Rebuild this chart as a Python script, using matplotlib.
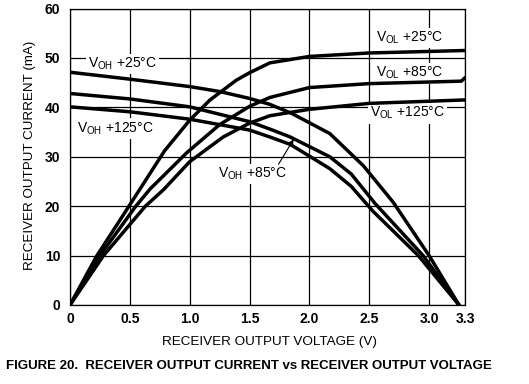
import matplotlib.pyplot as plt
import numpy as np

plt.rcParams['font.family'] = ['Liberation Sans', 'DejaVu Sans']
plt.rcParams['mathtext.fontset'] = 'custom'
plt.rcParams['mathtext.rm'] = 'Liberation Sans'

# (V, mA)
vol25_v = [0, 0.22, 0.49, 0.79, 1.0, 1.17, 1.39, 1.5, 1.67, 2.0, 2.5, 3.3]
vol25_i = [0, 9.8, 19.9, 31.2, 37.4, 41.5, 45.5, 47.0, 49.0, 50.3, 51.0, 51.5]
vol85_v = [0, 0.25, 0.55, 0.67, 0.975, 1.25, 1.5, 1.67, 2.0, 2.5, 3.27, 3.3]
vol85_i = [0, 10, 20, 23.5, 30.8, 36.5, 40.2, 42.0, 44.0, 44.8, 45.3, 46.0]
vol125_v = [0, 0.28, 0.63, 0.78, 1.0, 1.14, 1.28, 1.5, 1.67, 2.0, 2.5, 3.3]
vol125_i = [0, 10, 20, 23.3, 29.0, 31.5, 34.0, 36.8, 38.3, 39.6, 40.8, 41.5]

voh25_v = [0, 0.5, 1.0, 1.25, 1.5, 1.67, 1.85, 2.17, 2.45, 2.7, 3.0, 3.25]
voh25_i = [47.1, 45.7, 44.2, 43.2, 41.8, 40.6, 38.8, 34.7, 28.2, 20.8, 10, 0]
voh85_v = [0, 0.5, 1.0, 1.5, 1.67, 1.84, 2.17, 2.35, 2.55, 2.95, 3.25]
voh85_i = [42.8, 41.7, 40.1, 37.1, 35.6, 34.0, 30.0, 26.5, 20.5, 10, 0]
voh125_v = [0, 0.5, 1.0, 1.5, 1.67, 1.84, 2.17, 2.35, 2.53, 2.91, 3.25]
voh125_i = [40.1, 39.1, 37.6, 35.4, 34.0, 32.5, 27.6, 24.0, 19.0, 10, 0]

xticks = [0, 0.5, 1.0, 1.5, 2.0, 2.5, 3.0, 3.3]
xlabels = ['0', '0.5', '1.0', '1.5', '2.0', '2.5', '3.0', '3.3']
yticks = [0, 10, 20, 30, 40, 50, 60]

fig = plt.figure(figsize=(5.29, 3.84), dpi=100)
ax = fig.add_axes([70/529, 79/384, 395/529, 296.5/384])

for v, i in [(vol25_v, vol25_i), (vol85_v, vol85_i), (vol125_v, vol125_i),
             (voh25_v, voh25_i), (voh85_v, voh85_i), (voh125_v, voh125_i)]:
    ax.plot(v, i, color='black', lw=2.5, solid_capstyle='round',
            solid_joinstyle='round', zorder=4)

ax.set_xlim(0, 3.3)
ax.set_ylim(0, 60)
ax.set_xticks(xticks)
ax.set_xticklabels(xlabels)
ax.set_yticks(yticks)
ax.tick_params(length=0, labelsize=10, pad=5)
ax.tick_params(axis='y', pad=7)
for t in ax.get_xticklabels() + ax.get_yticklabels():
    t.set_fontweight('bold')
ax.grid(True, color='black', lw=0.9, zorder=1)
ax.set_axisbelow(True)
for s in ax.spines.values():
    s.set_linewidth(0.9)

box = dict(facecolor='white', edgecolor='none', pad=1.5)
lab = dict(fontsize=10, bbox=box, zorder=3, va='center', ha='left')
ax.text(0.15, 48.8, r'$\mathrm{V_{OH}}$ +25°C', **lab)
ax.text(0.06, 35.7, r'$\mathrm{V_{OH}}$ +125°C', **lab)
ax.text(1.24, 26.5, r'$\mathrm{V_{OH}}$ +85°C', **lab)
ax.text(2.56, 54.0, r'$\mathrm{V_{OL}}$ +25°C', **lab)
ax.text(2.56, 46.9, r'$\mathrm{V_{OL}}$ +85°C', **lab)
ax.text(2.51, 38.8, r'$\mathrm{V_{OL}}$ +125°C', **lab)
ax.annotate('', xy=(1.88, 34.0), xytext=(1.73, 28.0),
            arrowprops=dict(arrowstyle='-|>', color='black', lw=0.8,
                            mutation_scale=7), zorder=5)

fig.text(269/529, 1 - 341.7/384, 'RECEIVER OUTPUT VOLTAGE (V)',
         ha='center', va='center', fontsize=9.7)
fig.text(30/529, 1 - 155/384, 'RECEIVER OUTPUT CURRENT (mA)',
         ha='center', va='center', fontsize=9.6, rotation=90)
fig.text(6/529, 1 - 365.7/384,
         'FIGURE 20.  RECEIVER OUTPUT CURRENT vs RECEIVER OUTPUT VOLTAGE',
         ha='left', va='center', fontsize=9.55, fontweight='bold')

fig.savefig('out.png', dpi=100)
